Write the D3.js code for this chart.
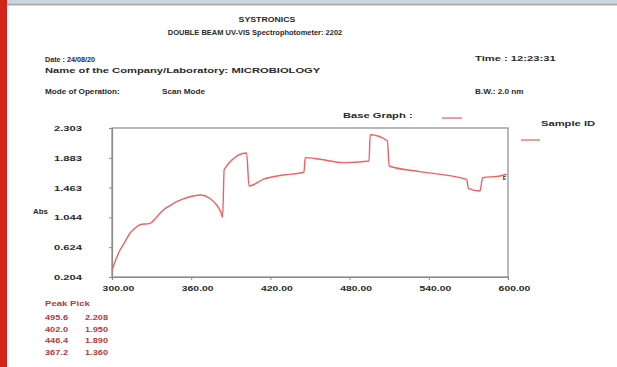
<!DOCTYPE html>
<html>
<head>
<meta charset="utf-8">
<script src="https://cdn.jsdelivr.net/npm/d3@7"></script>
<style>
  html, body { margin: 0; padding: 0; background: #fff; }
  svg { display: block; }
  text { font-family: "Liberation Sans", Arial, sans-serif; }
</style>
</head>
<body>
<svg id="chart" width="617" height="367"></svg>
<script>
// ---- data ----
const wavelengths = [300, 302.3, 306, 309.8, 313.6, 317.4, 321.2, 328.8, 333.9, 338.9, 344, 349, 354, 359, 367.2, 374, 379.3, 382.3, 383.8, 385, 402, 403.8, 414.6, 429.8, 445.4, 446.4, 457.6, 475.2, 494.7, 495.6, 508.6, 510, 533.3, 568.7, 570, 578.8, 580.8, 594, 599];
const absorbance  = [0.30, 0.42, 0.58, 0.70, 0.82, 0.89, 0.94, 0.96, 1.05, 1.148, 1.21, 1.265, 1.305, 1.335, 1.36, 1.313, 1.218, 1.124, 1.045, 1.72, 1.95, 1.486, 1.58, 1.64, 1.68, 1.885, 1.862, 1.815, 1.838, 2.208, 2.124, 1.768, 1.688, 1.58, 1.454, 1.416, 1.603, 1.627, 1.651];
const xTicks = [300, 360, 420, 480, 540, 600];
const yTicks = [0.204, 0.624, 1.044, 1.463, 1.883, 2.303];
const yTickLabels = ["0.204", "0.624", "1.044", "1.463", "1.883", "2.303"];
const peakWavelengths = ["495.6", "402.0", "446.4", "367.2"];
const peakValues = ["2.208", "1.950", "1.890", "1.360"];

const svg = d3.select("#chart");
const SX = 1.4; // horizontal stretch of the printed text

// page decorations
svg.append("rect").attr("x", 0).attr("y", 0).attr("width", 617).attr("height", 3.5).attr("fill", "#c9d5df");
svg.append("rect").attr("x", 0).attr("y", 3.5).attr("width", 617).attr("height", 2).attr("fill", "#a3a9ae");
svg.append("rect").attr("x", 0).attr("y", 0).attr("width", 7).attr("height", 367).attr("fill", "#d3231a");

const ink = "#2a2a2a";
function txt(x, y, s, opts = {}) {
  const sx = opts.sx || SX;
  return svg.append("text")
    .attr("transform", `translate(${x},${y}) scale(${sx},1)`)
    .attr("font-size", opts.size || 8)
    .attr("font-weight", opts.weight || "bold")
    .attr("fill", opts.fill || ink)
    .attr("text-anchor", opts.anchor || "start")
    .text(s);
}

txt(267, 22, "SYSTRONICS", {anchor: "middle", size: 7, sx: 1.25});
txt(255, 35, "DOUBLE BEAM UV-VIS Spectrophotometer: 2202", {anchor: "middle", size: 7, sx: 1.07});
txt(45, 62, "Date : 24/08/20", {sx: 0.9});
txt(45, 73, "Name of the Company/Laboratory: MICROBIOLOGY");
txt(45, 94, "Mode of Operation:", {sx: 1.02});
txt(162, 94, "Scan Mode", {sx: 1.02});
txt(475, 61, "Time : 12:23:31");
txt(475, 94, "B.W.:  2.0 nm", {sx: 1.02});
txt(343, 118, "Base Graph :");
txt(541, 126, "Sample ID");

const lineColor = "#f06060";
svg.append("line").attr("x1", 442).attr("x2", 462).attr("y1", 118).attr("y2", 118).attr("stroke", lineColor).attr("stroke-width", 1.3);
svg.append("line").attr("x1", 521).attr("x2", 540).attr("y1", 140).attr("y2", 140).attr("stroke", lineColor).attr("stroke-width", 1.3);

// plot
const pLeft = 112, pRight = 508, pTop = 128, pBottom = 277;
const x = d3.scaleLinear().domain([300, 600]).range([pLeft, pRight]);
const y = d3.scaleLinear().domain([0.204, 2.303]).range([pBottom, pTop]);

const axisColor = "#8a8a8a";
svg.append("rect").attr("x", pLeft).attr("y", pTop).attr("width", pRight - pLeft).attr("height", pBottom - pTop)
  .attr("fill", "none").attr("stroke", axisColor).attr("stroke-width", 1.2);

const xAxis = svg.append("g").attr("transform", `translate(0,${pBottom})`)
  .call(d3.axisBottom(x).tickValues(xTicks).tickSize(3).tickPadding(5).tickFormat(d3.format(".2f")));
const yAxis = svg.append("g").attr("transform", `translate(${pLeft},0)`)
  .call(d3.axisLeft(y).tickValues(yTicks).tickSize(3).tickPadding(27).tickFormat((d, i) => yTickLabels[i]));
[xAxis, yAxis].forEach(g => {
  g.select(".domain").attr("stroke", axisColor).attr("stroke-width", 1.2);
  g.selectAll(".tick line").attr("stroke", axisColor);
  g.selectAll("text").attr("fill", ink).attr("font-size", 8).attr("font-weight", "bold")
    .attr("font-family", "Liberation Sans, Arial, sans-serif");
});
xAxis.selectAll(".tick text").attr("x", 6 / 1.3).attr("transform", `scale(1.3,1)`);
yAxis.selectAll(".tick text").attr("x", -30 / SX).attr("transform", `scale(${SX},1)`);

txt(33, 214, "Abs", {size: 7.5, sx: 1.05});

const pts = wavelengths.map((w, i) => [w, absorbance[i]]);
const line = d3.line().x(d => x(d[0])).y(d => y(d[1])).curve(d3.curveMonotoneX);
svg.append("path").datum(pts).attr("d", line).attr("fill", "none")
  .attr("stroke", lineColor).attr("stroke-width", 1.4).attr("stroke-linejoin", "round");

txt(x(599) - 4, y(1.651) + 6, "E", {size: 5, sx: 1});

const peakColor = "#b83a3a";
txt(45, 306, "Peak Pick", {fill: peakColor, sx: 1.2});
peakWavelengths.forEach((w, i) => {
  txt(45, 320 + i * 11.5, w, {fill: peakColor, sx: 1.15});
  txt(85, 320 + i * 11.5, peakValues[i], {fill: peakColor, sx: 1.15});
});
</script>
</body>
</html>
